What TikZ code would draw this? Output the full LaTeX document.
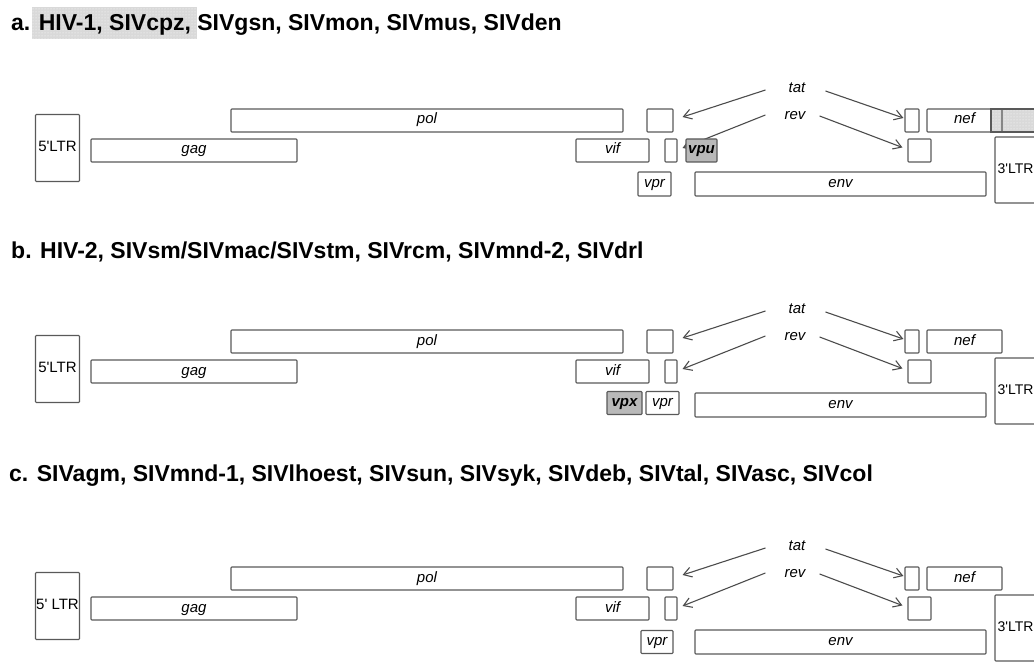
\documentclass[tikz,border=0pt]{standalone}
\usepackage{fontspec}
\setmainfont{Liberation Sans}
\usetikzlibrary{arrows.meta,patterns}
\definecolor{boxgray}{gray}{0.35}
\definecolor{arrowgray}{gray}{0.3}
\tikzset{
  gene/.style={draw=boxgray, line width=1.1pt, rounded corners=0.8pt, inner sep=0pt,
    text height=0.8em, text depth=0.1em, font=\fontsize{15}{15}\selectfont\itshape},
  ltr/.style={gene, font=\fontsize{15}{15}\selectfont},
  accessory/.style={gene, fill=gray!55, font=\fontsize{15}{15}\selectfont\bfseries\itshape},
  regulator/.style={inner sep=1pt, font=\fontsize{15}{15}\selectfont\itshape},
  arr/.style={draw=arrowgray, line width=1.1pt, -{Straight Barb[length=8pt,width=10pt]}},
  paneltitle/.style={anchor=base west, inner sep=0pt, font=\fontsize{23}{25}\selectfont\bfseries}
}
\begin{document}
\begin{tikzpicture}[x=1pt, y=-1pt]
\useasboundingbox (0,0) rectangle (1034,663);
\clip (0,0) rectangle (1034,663);
% Shaded highlights
\fill[gray!30] (32,7) rectangle (197,39);
\fill[pattern=dots, pattern color=white] (32,7) rectangle (197,39);
\filldraw[fill=gray!30, draw=boxgray, line width=1.1pt] (991,109) rectangle (1040,132);
\fill[pattern=dots, pattern color=white] (992,110) rectangle (1040,131);
% Panel titles
\node[paneltitle] (title-a) at (11,31) {a. HIV-1, SIVcpz, SIVgsn, SIVmon, SIVmus, SIVden};
\node[paneltitle] (title-b) at (11,259) {b. HIV-2, SIVsm/SIVmac/SIVstm, SIVrcm, SIVmnd-2, SIVdrl};
\node[paneltitle] (title-c) at (9,481) {c. SIVagm, SIVmnd-1, SIVlhoest, SIVsun, SIVsyk, SIVdeb, SIVtal, SIVasc, SIVcol};
% Genome maps
\foreach \p/\dy/\lt in {a/0/5\textquotesingle LTR, b/221/5\textquotesingle LTR, c/458/5\textquotesingle\ LTR}{
  \begin{scope}[shift={(0,\dy)}]
    \node[ltr, minimum width=44pt, minimum height=67pt] (ltr5\p) at (57.5,148) {\lt};
    \node[gene, minimum width=206pt, minimum height=23pt] (gag\p) at (194,150.5) {gag};
    \node[gene, minimum width=392pt, minimum height=23pt] (pol\p) at (427,120.5) {pol};
    \node[gene, minimum width=26pt, minimum height=23pt] (tatex\p) at (660,120.5) {};
    \node[gene, minimum width=73pt, minimum height=23pt] (vif\p) at (612.5,150.5) {vif};
    \node[gene, minimum width=12pt, minimum height=23pt] (revex\p) at (671,150.5) {};
    \node[gene, minimum width=291pt, minimum height=24pt] (env\p) at (840.5,184) {env};
    \node[gene, minimum width=14pt, minimum height=23pt] (tatin\p) at (912,120.5) {};
    \node[gene, minimum width=23pt, minimum height=23pt] (revin\p) at (919.5,150.5) {};
    \node[gene, minimum width=75pt, minimum height=23pt] (nef\p) at (964.5,120.5) {nef};
    \node[ltr, minimum width=41pt, minimum height=66pt, font=\fontsize{14}{14}\selectfont] (ltr3\p) at (1015.5,170) {3\textquotesingle LTR};
    \node[regulator] (tat\p) at (797,88) {tat};
    \node[regulator] (rev\p) at (795,116) {rev};
    \draw[arr] ([shift={(-22,2)}]tat\p.west) -- ([shift={(9,-3.5)}]tatex\p.east);
    \draw[arr] ([shift={(19,3)}]tat\p.east) -- ([shift={(-1,-2.5)}]tatin\p.west);
    \draw[arr] ([shift={(-18,-1)}]rev\p.west) -- ([shift={(5,-2.5)}]revex\p.east);
    \draw[arr] ([shift={(13,0)}]rev\p.east) -- ([shift={(-5,-3)}]revin\p.west);
  \end{scope}
}
% Accessory genes of each group
\node[accessory, minimum width=31pt, minimum height=23pt] (vpua) at (701.5,150.5) {vpu};
\node[gene, minimum width=33pt, minimum height=24pt] (vpra) at (654.5,184) {vpr};
\node[accessory, minimum width=35pt, minimum height=23pt] (vpxb) at (624.5,403) {vpx};
\node[gene, minimum width=33pt, minimum height=23pt] (vprb) at (662.5,403) {vpr};
\node[gene, minimum width=32pt, minimum height=23pt] (vprc) at (657,642) {vpr};
\end{tikzpicture}
\end{document}
